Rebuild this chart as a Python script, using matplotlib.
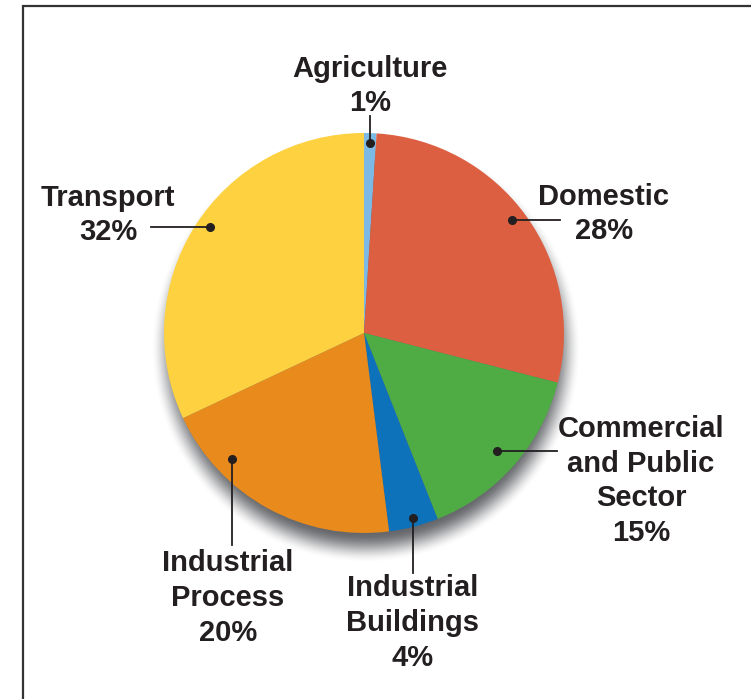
import numpy as np
import matplotlib
matplotlib.use("Agg")
import matplotlib.pyplot as plt

W, H = 751, 699

sectors = ["Agriculture", "Domestic", "Commercial\nand Public\nSector",
           "Industrial\nBuildings", "Industrial\nProcess", "Transport"]
shares = [1, 28, 15, 4, 20, 32]
colors = ["#7db9e5", "#dc5f42", "#4fac45", "#0e72bb", "#e88a1c", "#fdd13f"]

# label block centre, dot and leader end (pixel coords, y down)
label_xy = [(370, 86), (604, 214), (641, 481), (413, 623), (228, 598), (108, 215)]
dot_xy = [(370, 143), (512, 220), (497, 451), (413, 518), (232, 459), (210, 227)]
line_end = [(370, 116), (560, 220), (557, 451), (413, 573), (232, 545), (151, 227)]

CX, CY, R = 364, 333, 200
TEXT_COL = "#231f20"


def fy(py):
    return H - py


fig = plt.figure(figsize=(W / 100, H / 100), dpi=100)
ax = fig.add_axes([0, 0, 1, 1])

# soft drop shadow
xs = np.arange(0, W) + 0.5
ys = np.arange(0, H) + 0.5
gx, gy = np.meshgrid(xs, ys)
d = np.hypot(gx - (CX + 2), gy - (CY + 15))
blur = 15.0
t = np.clip((R + blur - d) / (2 * blur), 0, 1)
alpha = t * t * (3 - 2 * t) * 0.9
shadow = np.zeros((H, W, 4))
shadow[..., 0] = 0.33
shadow[..., 1] = 0.34
shadow[..., 2] = 0.36
shadow[..., 3] = alpha
ax.imshow(shadow, extent=(0, W, 0, H), origin="upper", zorder=1, interpolation="bilinear")

ax.pie(shares, colors=colors, startangle=90, counterclock=False,
       center=(CX, fy(CY)), radius=R, frame=True,
       wedgeprops=dict(linewidth=0, zorder=2))

for name, pct, (lx, ly), (dx, dy), (ex, ey) in zip(sectors, shares, label_xy, dot_xy, line_end):
    ax.text(lx, fy(ly), f"{name}\n{pct}%", ha="center", va="center",
            fontsize=21, fontweight="bold", family="Liberation Sans",
            color=TEXT_COL, linespacing=1.3, zorder=5)
    ax.plot([dx, ex], [fy(dy), fy(ey)], color=TEXT_COL, lw=1.3, zorder=4)
    ax.plot(dx, fy(dy), "o", color=TEXT_COL, ms=5.5, zorder=4)

# frame lines (left and top)
ax.plot([23, 23, W], [0, fy(6), fy(6)], color="#333333", lw=1.6, zorder=6,
        solid_joinstyle="miter")

ax.set_xlim(0, W)
ax.set_ylim(0, H)
ax.set_aspect("equal")
ax.axis("off")

fig.savefig("out.png", dpi=100)
